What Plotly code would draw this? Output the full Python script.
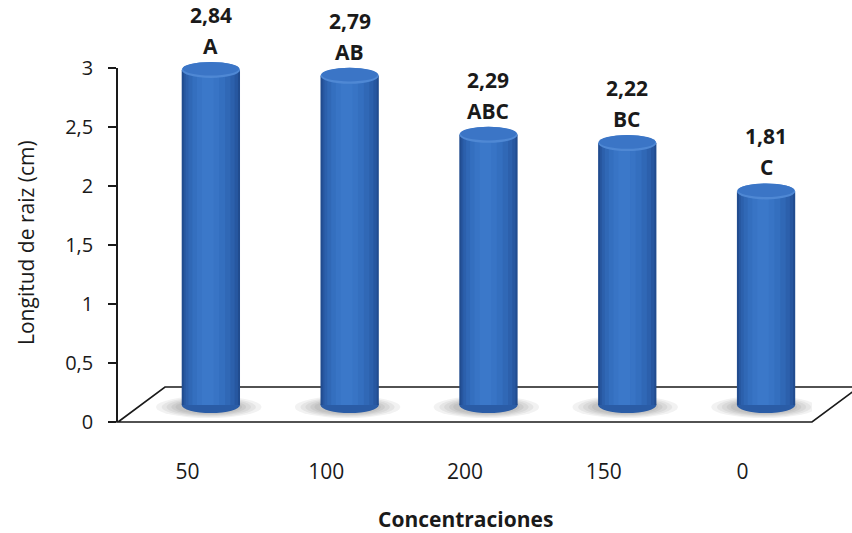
import plotly.graph_objects as go

# Root length by concentration
categories = ["50", "100", "200", "150", "0"]
values = [2.84, 2.79, 2.29, 2.22, 1.81]
letters = ["A", "AB", "ABC", "BC", "C"]
y_ticks = [0, 0.5, 1, 1.5, 2, 2.5, 3]

FONT = "Open Sans"
INK = "#1a1a1a"
n = len(categories)
idx = list(range(n))

# layout in pixels: plot area spans 118..812 horizontally, 0..422 vertically
PLOT_H = 422
PX_PER_UNIT = 118          # vertical scale of the value axis
Y_TOP_PX = 68              # where 3 sits on the visible axis
# pseudo-3D depth: columns stand half-way back on the floor
X_SHIFT = 0.169
Y_SHIFT = 0.144
BAR_W = 0.42
CAP_H = 8 / PX_PER_UNIT    # half-height of cylinder ellipses (y units)

fig = go.Figure()

# carrier trace so the visible category / value axes are drawn
fig.add_trace(go.Scatter(
    x=idx, y=[0] * n, mode="markers", marker=dict(opacity=0),
    hoverinfo="skip", showlegend=False, xaxis="x", yaxis="y",
))

# cylinder body: stacked bars of decreasing width give a round shading
layers = [
    (1.00, 0.00, "#214c8f"),
    (0.93, 0.00, "#2757a0"),
    (0.84, -0.005, "#2c60ac"),
    (0.72, -0.010, "#3068b6"),
    (0.56, -0.015, "#346fbf"),
    (0.38, -0.020, "#3874c5"),
    (0.20, -0.022, "#3b78c9"),
]
for frac, shift, col in layers:
    w = BAR_W * frac
    fig.add_trace(go.Bar(
        x=idx, y=values, base=0, width=w, offset=-w / 2 + shift,
        marker=dict(color=col, line=dict(width=0)),
        xaxis="x2", yaxis="y2", hoverinfo="skip", showlegend=False,
    ))

shapes = []
# floor of the 3D plot area (paper coordinates)
back_y = 35 / PLOT_H
back_dx = 47 / 694
shapes.append(dict(
    type="path", xref="paper", yref="paper", layer="below",
    path=f"M 0 0 L {back_dx} {back_y} L {1 + back_dx} {back_y} L 1 0 Z",
    fillcolor="white", line=dict(color=INK, width=1.6),
))

for i, v in zip(idx, values):
    # soft shadow under each column
    for sw, sh in [(0.76, 11), (0.68, 10), (0.61, 9), (0.54, 8), (0.48, 7)]:
        shapes.append(dict(
            type="circle", xref="x2", yref="y2", layer="below",
            x0=i - sw / 2 - 0.015, x1=i + sw / 2 - 0.015,
            y0=(-2 - sh) / PX_PER_UNIT, y1=(-2 + sh) / PX_PER_UNIT,
            fillcolor="rgba(0,0,0,0.05)", line=dict(width=0),
        ))
    # rounded bottom of the cylinder
    shapes.append(dict(
        type="circle", xref="x2", yref="y2", layer="below",
        x0=i - BAR_W / 2, x1=i + BAR_W / 2, y0=-CAP_H, y1=CAP_H,
        fillcolor="#2a5ca6", line=dict(width=0),
    ))
    # top cap: light rim plus inner face
    shapes.append(dict(
        type="circle", xref="x2", yref="y2",
        x0=i - BAR_W / 2, x1=i + BAR_W / 2, y0=v - CAP_H, y1=v + CAP_H,
        fillcolor="#4f88d4", line=dict(width=0),
    ))
    shapes.append(dict(
        type="circle", xref="x2", yref="y2",
        x0=i - BAR_W / 2 * 0.97, x1=i + BAR_W / 2 * 0.97,
        y0=v - CAP_H * 0.7, y1=v + CAP_H * 1.0,
        fillcolor="#3b75c6", line=dict(width=0),
    ))

annotations = []
for i, v, letter in zip(idx, values, letters):
    annotations.append(dict(
        x=i, y=v, xref="x2", yref="y2", text=f"{v:.2f}".replace(".", ","),
        showarrow=False, yanchor="middle", yshift=55,
        font=dict(family=FONT, size=21, color=INK, weight="bold"),
    ))
    annotations.append(dict(
        x=i, y=v, xref="x2", yref="y2", text=letter,
        showarrow=False, yanchor="middle", yshift=24,
        font=dict(family=FONT, size=21, color=INK, weight="bold"),
    ))

annotations.append(dict(
    x=(465 - 118) / 694, y=(PLOT_H - 519) / PLOT_H, xref="paper", yref="paper",
    xanchor="center", yanchor="middle",
    text="<b>Concentraciones</b>", showarrow=False,
    font=dict(family=FONT, size=21, color=INK),
))
annotations.append(dict(
    x=(26 - 118) / 694, y=(PLOT_H - 243) / PLOT_H, xref="paper", yref="paper",
    xanchor="center", yanchor="middle",
    text="Longitud de raiz (cm)", textangle=-90, showarrow=False,
    font=dict(family=FONT, size=21, color=INK),
))

y_dom_top = (PLOT_H - Y_TOP_PX) / PLOT_H
fig.update_layout(
    width=852, height=533,
    margin=dict(l=118, r=40, t=0, b=533 - PLOT_H, autoexpand=False),
    paper_bgcolor="white", plot_bgcolor="rgba(0,0,0,0)",
    barmode="overlay", showlegend=False,
    shapes=shapes, annotations=annotations,
    xaxis=dict(
        domain=[0, 1], anchor="y", automargin=False,
        range=[-0.5, n - 0.5], tickmode="array", tickvals=idx, ticktext=categories,
        showline=False, showgrid=False, zeroline=False, ticks="",
        ticklabelstandoff=35,
        tickfont=dict(family=FONT, size=21, color=INK),
    ),
    yaxis=dict(
        domain=[0, y_dom_top], anchor="x", automargin=False,
        range=[0, 3], tickmode="array", tickvals=y_ticks,
        ticktext=[f"{t:g}".replace(".", ",") for t in y_ticks],
        showline=True, linecolor=INK, linewidth=1.6,
        ticks="outside", ticklen=8, tickcolor=INK, tickwidth=1.6,
        ticklabelstandoff=11,
        showgrid=False, zeroline=False,
        tickfont=dict(family=FONT, size=20, color=INK),
    ),
    xaxis2=dict(
        domain=[0, 1], anchor="y2", automargin=False,
        range=[-0.5 - X_SHIFT, n - 0.5 - X_SHIFT],
        visible=False, showgrid=False, zeroline=False,
    ),
    yaxis2=dict(
        domain=[0, 1], anchor="x2", automargin=False,
        range=[-Y_SHIFT, -Y_SHIFT + PLOT_H / PX_PER_UNIT],
        visible=False, showgrid=False, zeroline=False,
    ),
)

fig.write_html("out.html")
